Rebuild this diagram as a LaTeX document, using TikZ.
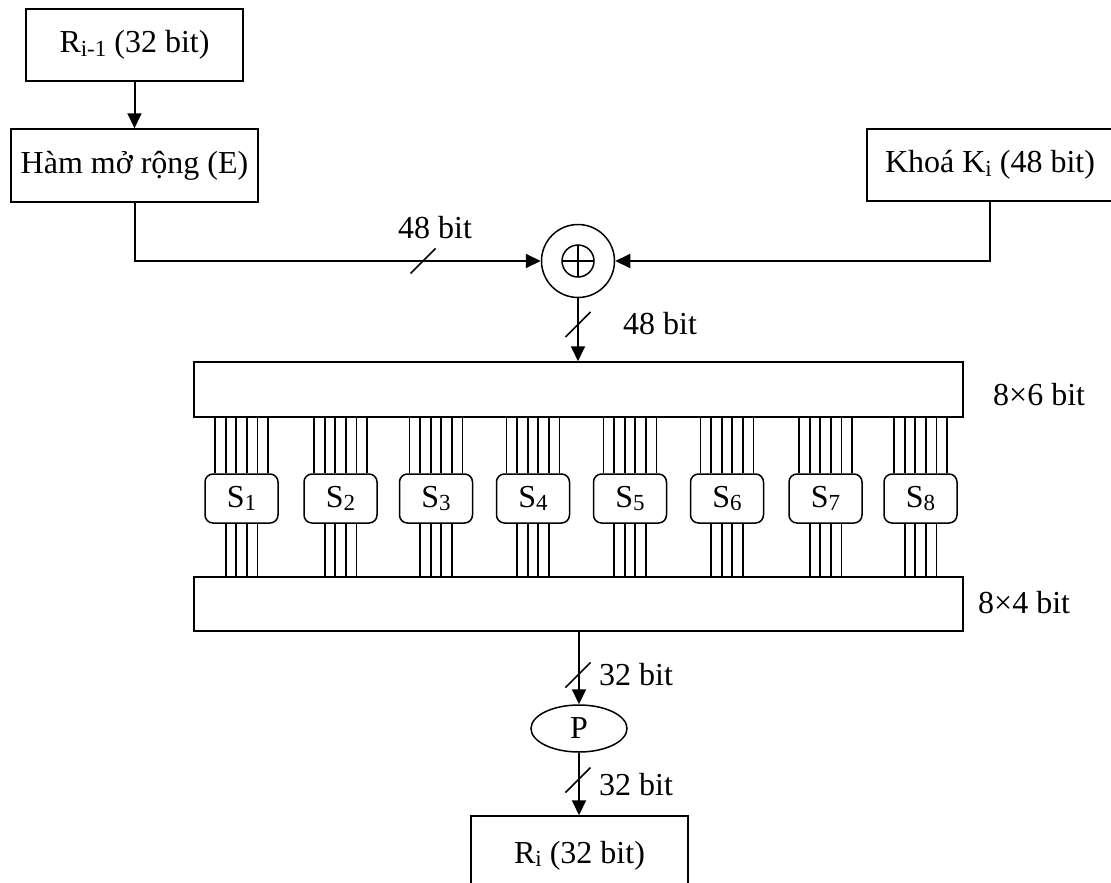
\documentclass[tikz,border=0pt]{standalone}
\usepackage{fontspec}
\setmainfont{Liberation Serif}
\usetikzlibrary{arrows.meta,shapes.geometric,calc}
\newcommand\sbs[1]{\raisebox{-3.5pt}{\fontsize{23}{23}\selectfont #1}}
\begin{document}
\begin{tikzpicture}[x=1pt,y=-1pt,
  every node/.style={font=\fontsize{32}{38}\selectfont},
  blk/.style={draw,line width=1.5pt,inner sep=0pt},
  sbox/.style={draw,line width=1.5pt,rounded corners=8pt,inner sep=0pt,minimum width=73,minimum height=49},
  arr/.style={line width=2pt,-{Triangle[length=15pt,width=14pt]}},
  wire/.style={line width=1.8pt},
  slashmark/.style={line width=1.5pt},
  lbl/.style={anchor=base west,inner sep=0pt}]
\useasboundingbox (0,0) rectangle (1111,883);
\clip (0,0) rectangle (1111,883);
% boxes
\node[blk,minimum width=217,minimum height=72] (rprev) at (134.5,45) {R\sbs{i-1} (32 bit)};
\node[blk,minimum width=247,minimum height=73] (E) at (134.5,165.5) {Hàm mở rộng (E)};
\node[blk,minimum width=246,minimum height=72] (K) at (990,165) {Khoá K\sbs{i} (48 bit)};
\node[circle,draw,line width=1.5pt,minimum size=73,inner sep=0pt] (xor) at (578,261) {};
\draw[line width=1.5pt] (xor.center) circle[radius=16pt];
\draw[line width=1.5pt] ($(xor.center)+(-16,0)$) -- ($(xor.center)+(16,0)$);
\draw[line width=1.5pt] ($(xor.center)+(0,-16)$) -- ($(xor.center)+(0,16)$);
\node[blk,minimum width=769,minimum height=55] (sixbit) at (578.5,389.5) {};
\node[blk,minimum width=769,minimum height=54] (fourbit) at (578.5,604) {};
\node[ellipse,draw,line width=1.5pt,minimum width=96,minimum height=47,inner sep=0pt] (P) at (579,728.5) {P};
\node[blk,minimum width=217,minimum height=84] (ri) at (579.5,858) {\raisebox{12pt}{R\sbs{i} (32 bit)}};
% S boxes
\foreach \i/\x in {1/241.5,2/340.5,3/436,4/533,5/630,6/727,7/825.5,8/920.5}{
  \node[sbox] (s\i) at (\x,498.5) {S\sbs{\i}};
  \foreach \d in {-26.5,-15.9,-5.3,5.3,15.9,26.5}
    \draw[wire] ([xshift=\d pt]s\i.north) -- ([xshift=\d pt]s\i.north |- sixbit.south);
  \foreach \d in {-15.9,-5.3,5.3,15.9}
    \draw[wire] ([xshift=\d pt]s\i.south) -- ([xshift=\d pt]s\i.south |- fourbit.north);
}
% connectors
\draw[arr] (rprev) -- (E);
\draw[arr] (E.south) |- (xor.west);
\draw[arr] (K.south) |- (xor.east);
\draw[arr] (xor.south) -- (xor.south |- sixbit.north);
\draw[arr] (P.north |- fourbit.south) -- (P.north);
\draw[arr] (P.south) -- (P.south |- ri.north);
% slashes
\coordinate (h1) at (423,261);
\coordinate (v1) at (578,324.5);
\coordinate (v2) at (578,675);
\coordinate (v3) at (578,780);
\foreach \c in {h1,v1,v2,v3}
  \draw[slashmark] ($(\c)+(-12.5,12.5)$) -- ($(\c)+(12.5,-12.5)$);
% labels
\node[lbl] (l1) at (398,238) {48 bit};
\node[lbl] (l2) at (623,334) {48 bit};
\node[lbl] (l3) at (993,405) {8×6 bit};
\node[lbl] (l4) at (978,613) {8×4 bit};
\node[lbl] (l5) at (599,685) {32 bit};
\node[lbl] (l6) at (599,795) {32 bit};
\end{tikzpicture}
\end{document}
